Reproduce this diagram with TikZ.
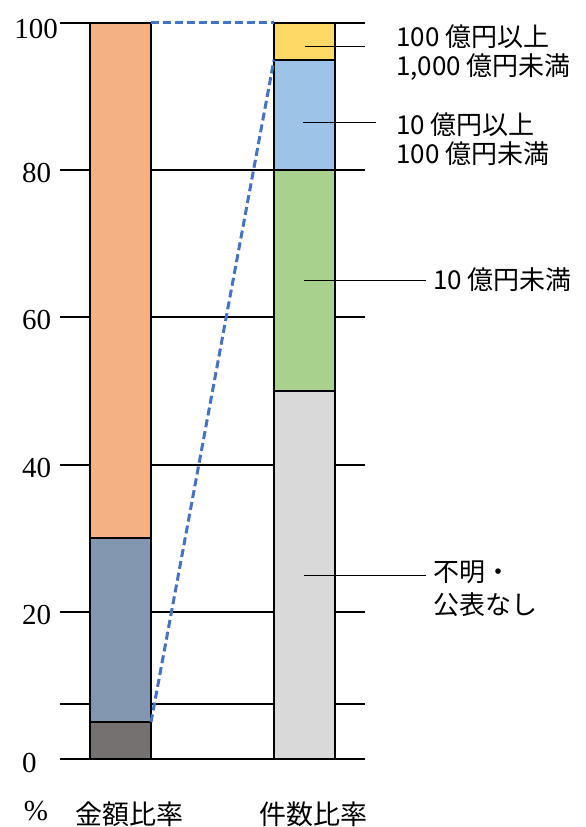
\documentclass[tikz,border=0pt]{standalone}
\usepackage{fontspec}
\setmainfont{Liberation Serif}
\newfontfamily\jpfont{Noto Sans CJK JP}
\usetikzlibrary{positioning}
\definecolor{cDark}{HTML}{767171}
\definecolor{cSlate}{HTML}{8497B0}
\definecolor{cOrange}{HTML}{F4B183}
\definecolor{cGrey}{HTML}{D9D9D9}
\definecolor{cGreen}{HTML}{A9D18E}
\definecolor{cSky}{HTML}{9DC3E6}
\definecolor{cYellow}{HTML}{FFD966}
\definecolor{cLink}{HTML}{4472C4}
\tikzset{
	pics/seg/.style n args={4}{
		code = {
			\draw[draw=black, line width=2pt, fill=#4] (#1, #2) rectangle ++ (61, #3);
		}
	}
}

\begin{document}
\begin{tikzpicture}[x=1pt, y=7.36pt, grid/.style={draw=black, line width=2pt}, lead/.style={draw=black, line width=0.9pt}, link/.style={draw=cLink, line width=3pt, dash pattern=on 8pt off 4pt}, num/.style={font=\fontsize{29}{34}\selectfont, inner sep=0pt}, lab/.style={font=\jpfont\fontsize{26}{29}\selectfont, align=left, anchor=west, inner sep=0pt}, bartitle/.style={font=\jpfont\fontsize{27}{30}\selectfont, inner sep=0pt}]
	\useasboundingbox (0, -9.239) rectangle (586, 103.125);

	% --- grid ---
	\foreach \v in {0, 7.5, 20, 40, 60, 80}
		\draw[grid] (60, \v) -- (365, \v);
	\draw[grid] (60, 100) -- (90, 100);
	\draw[grid] (335, 100) -- (365, 100);

	% --- axis ---
	\node[num, anchor=east] (n100) at (58, 99.25) {100};
	\foreach \v in {20, 40, 60, 80}
		\node[num, anchor=west] (n\v) at (22, \v - 0.4) {\v};
	\node[num, anchor=west] (n0) at (22, -0.6) {0};

	% --- amount ---
	\pic{seg={90}	{0}	{5}	{cDark}};
	\pic{seg={90}	{5}	{25}	{cSlate}};
	\pic{seg={90}	{30}	{70}	{cOrange}};

	% --- count ---
	\pic{seg={274}	{0}	{50}	{cGrey}};
	\pic{seg={274}	{50}	{30}	{cGreen}};
	\pic{seg={274}	{80}	{15}	{cSky}};
	\pic{seg={274}	{95}	{5}	{cYellow}};

	\coordinate (a5) at (151, 5);
	\coordinate (a100) at (151, 100);
	\coordinate (c95) at (274, 95);
	\coordinate (c100) at (274, 100);
	\draw[link] (a100) -- (c100);
	\draw[link] (a5) -- (c95);

	% --- legend ---
	\coordinate (s1) at (305, 96.78);
	\coordinate (e1) at (365, 96.78);
	\coordinate (s2) at (303, 86.45);
	\coordinate (e2) at (376, 86.45);
	\coordinate (s3) at (304, 65.08);
	\coordinate (e3) at (426, 65.08);
	\coordinate (s4) at (304, 24.9);
	\coordinate (e4) at (426, 24.9);

	\node[lab] (t1) at (396, 95.92) {100 億円以上\\1,000 億円未満};
	\node[lab] (t2) at (396, 84.17) {10 億円以上\\100 億円未満};
	\node[lab] (t3) at (433, 65.08) {10 億円未満};
	\node[lab, font=\jpfont\fontsize{26}{33}\selectfont] (t4) at (433, 23.17) {不明・\\公表なし};

	\draw[lead] (s1) -- (e1);
	\draw[lead] (s2) -- (e2);
	\draw[lead] (s3) -- (e3);
	\draw[lead] (s4) -- (e4);

	% --- labels ---
	\node[num] (pct) at (36, -7.1) {\%};
	\node[bartitle] (amt) at (129, -7.45) {金額比率};
	\node[bartitle] (cnt) at (313, -7.45) {件数比率};

\end{tikzpicture}
\end{document}
